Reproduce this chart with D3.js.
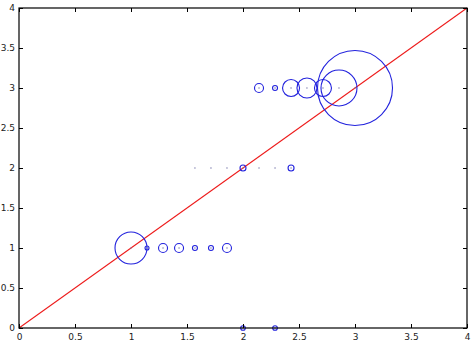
<!DOCTYPE html>
<html><head><meta charset="utf-8">
<script src="https://cdn.jsdelivr.net/npm/d3@7"></script>
<style>body{margin:0;background:#fff}svg{display:block}text{font-family:"DejaVu Sans",sans-serif;font-size:9px;fill:#222}</style>
</head><body><svg id="c" width="473" height="350"></svg>
<script>
// point positions (x, y) and circle sizes (radius in px-equivalent units)
const pointX = [1, 1.143, 1.286, 1.429, 1.571, 1.714, 1.857,
                1.571, 1.714, 1.857, 2, 2.143, 2.286, 2.429,
                2.143, 2.286, 2.429, 2.571, 2.714, 2.857, 3,
                2, 2.286];
const pointY = [1, 1, 1, 1, 1, 1, 1,
                2, 2, 2, 2, 2, 2, 2,
                3, 3, 3, 3, 3, 3, 3,
                0, 0];
const sizes  = [16, 2, 4.5, 4.5, 2.5, 2.5, 4.5,
                0, 0, 0, 3, 0, 0, 3,
                4.5, 2.5, 8.5, 10, 8.5, 18, 37.5,
                2.3, 2.3];
const lineX = [0, 4];
const lineY = [0, 4];
const xTicks = [0, 0.5, 1, 1.5, 2, 2.5, 3, 3.5, 4];
const yTicks = [0, 0.5, 1, 1.5, 2, 2.5, 3, 3.5, 4];

const svg = d3.select("#c");
const L = 19, R = 467, T = 8, B = 328;
const x = d3.scaleLinear().domain([0, 4]).range([L, R]);
const y = d3.scaleLinear().domain([0, 4]).range([B, T]);
const r = d3.scaleLinear().domain([0, 37.5]).range([0, 37.5]);

const g = svg.append("g");
// diagonal line
g.append("path").datum(lineX.map((v, i) => [v, lineY[i]]))
  .attr("d", d3.line().x(d => x(d[0])).y(d => y(d[1])))
  .attr("stroke", "#ee1c1c").attr("stroke-width", 1.1).attr("fill", "none");

const pts = pointX.map((v, i) => ({x: v, y: pointY[i], s: sizes[i]}));
g.selectAll("circle.b").data(pts.filter(d => d.s > 0)).join("circle")
  .attr("class", "b")
  .attr("cx", d => x(d.x)).attr("cy", d => y(d.y)).attr("r", d => r(d.s))
  .attr("fill", "none").attr("stroke", "#2222dd").attr("stroke-width", 1.1);
g.selectAll("circle.c").data(pts).join("circle")
  .attr("class", "c")
  .attr("cx", d => x(d.x)).attr("cy", d => y(d.y)).attr("r", 0.7)
  .attr("fill", "#7777aa");

// axes with inward ticks on all sides
const ax = (a) => a.tickSizeInner(-4).tickSizeOuter(0).tickPadding(6);
const axBottom = svg.append("g").attr("transform", `translate(0,${B})`)
  .call(ax(d3.axisBottom(x).tickValues(xTicks).tickFormat(d3.format("~g"))));
const axLeft = svg.append("g").attr("transform", `translate(${L},0)`)
  .call(ax(d3.axisLeft(y).tickValues(yTicks).tickFormat(d3.format("~g"))));
const axTop = svg.append("g").attr("transform", `translate(0,${T})`)
  .call(ax(d3.axisTop(x).tickValues(xTicks).tickFormat("")));
const axRight = svg.append("g").attr("transform", `translate(${R},0)`)
  .call(ax(d3.axisRight(y).tickValues(yTicks).tickFormat("")));
[axBottom, axLeft, axTop, axRight].forEach(a => {
  a.select(".domain").remove();
  a.selectAll(".tick line").attr("stroke", "#000");
  a.selectAll("text").attr("font-family", "DejaVu Sans").attr("font-size", 9).attr("fill", "#222");
});
axLeft.selectAll("text").attr("dx", 2);
svg.append("rect").attr("x", L).attr("y", T).attr("width", R - L).attr("height", B - T)
  .attr("fill", "none").attr("stroke", "#000").attr("stroke-width", 1.2);
</script></body></html>
